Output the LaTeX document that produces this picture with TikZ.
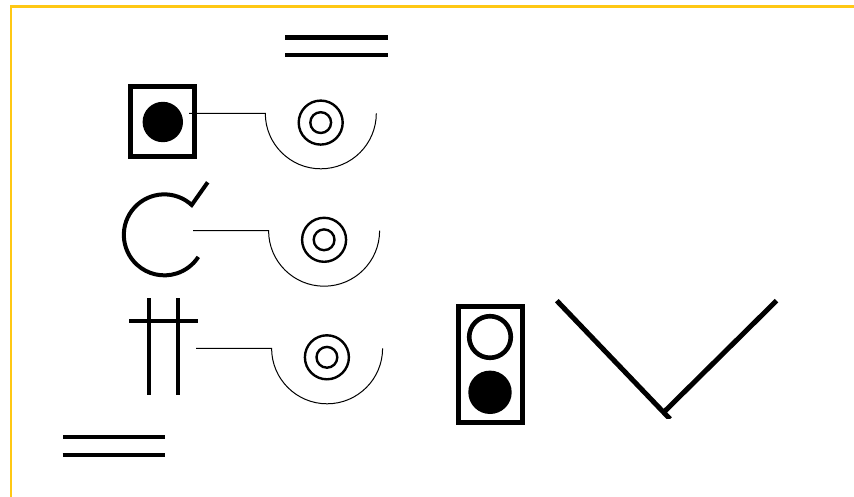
\documentclass[tikz,border=0pt]{standalone}
\definecolor{framegold}{RGB}{255,200,20}
\tikzset{
  frameline/.style={draw=framegold,line width=2.6pt},
  heavy/.style={draw=black,line width=5pt},
  bar/.style={draw=black,line width=4.2pt},
  ring/.style={draw=black,line width=2.4pt},
  thinline/.style={draw=black,line width=1pt},
  disc/.style={fill=black,draw=none}
}
\newcommand{\dishgroup}[6]{%
  \coordinate (#6a) at (#1,#3);
  \coordinate (#6b) at (#2,#3);
  \draw[thinline] (#6a) -- (#6b) arc[start angle=180,end angle=0,radius=55.5];
  \draw[ring] (#4,#5) circle[radius=22];
  \draw[ring] (#4,#5) circle[radius=10.4];
}
\begin{document}
\begin{tikzpicture}[x=1pt,y=-1pt]
\useasboundingbox (0,0) rectangle (854,497);
% frame
\coordinate (fa) at (11,497);
\coordinate (fb) at (11,6.5);
\coordinate (fc) at (854,6.5);
\draw[frameline,line join=miter] (fa) -- (fb) -- (fc);
% top and bottom double bars
\coordinate (t1a) at (285,37.5); \coordinate (t1b) at (388,37.5);
\coordinate (t2a) at (285,55);   \coordinate (t2b) at (388,55);
\draw[bar] (t1a) -- (t1b);
\draw[bar] (t2a) -- (t2b);
\coordinate (b1a) at (63.3,437.3); \coordinate (b1b) at (165.3,437.3);
\coordinate (b2a) at (62.5,455);   \coordinate (b2b) at (165.3,455);
\draw[bar] (b1a) -- (b1b);
\draw[bar] (b2a) -- (b2b);
% first symbol
\draw[heavy] (130.5,86.5) rectangle (194.2,156.7);
\fill[disc] (162.8,122) circle[radius=20.2];
% second symbol
\coordinate (ca) at (191.7,205);
\coordinate (cb) at (207.7,182.3);
\draw[draw=black,line width=4pt] (cb) -- (ca) arc[start angle=-47.5,end angle=-327,radius=40.5];
% third symbol
\coordinate (ha) at (148.7,298.3); \coordinate (hb) at (148.7,395.3);
\coordinate (hc) at (178,298.3);   \coordinate (hd) at (178,395.3);
\coordinate (he) at (129,321.3);   \coordinate (hf) at (198,321.3);
\draw[bar] (ha) -- (hb);
\draw[bar] (hc) -- (hd);
\draw[bar] (he) -- (hf);
% dishes
\dishgroup{189}{265.3}{113.3}{320.7}{122.6}{p}
\dishgroup{193}{268.6}{230.7}{324.1}{239.8}{q}
\dishgroup{196}{271.6}{348.3}{326.9}{357.3}{r}
% lamp
\draw[heavy] (458.2,306.8) rectangle (522.2,422.6);
\draw[draw=black,line width=4.6pt] (490,337) circle[radius=20.8];
\fill[disc] (490,392.3) circle[radius=21.7];
% V
\coordinate (va) at (556.8,300.7);
\coordinate (vb) at (670,419);
\coordinate (vc) at (776.5,300.7);
\coordinate (vd) at (664.5,411.5);
\begin{scope}
\clip (540,290) rectangle (790,418);
\draw[heavy] (va) -- (vb);
\end{scope}
\draw[heavy] (vc) -- (vd);
\end{tikzpicture}
\end{document}
